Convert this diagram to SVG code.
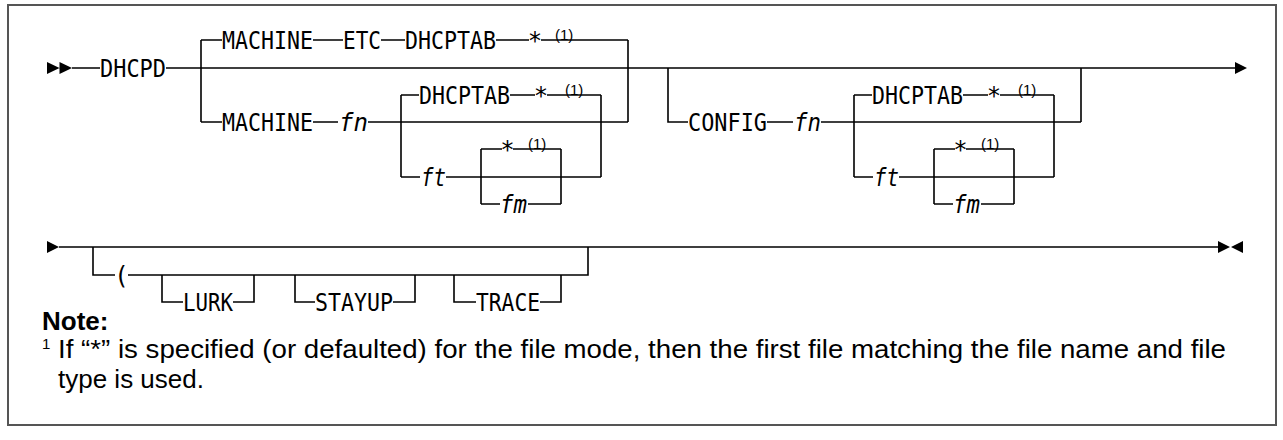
<svg xmlns="http://www.w3.org/2000/svg" width="1283" height="440" viewBox="0 0 1283 440">
<style>
.kw{font-family:"DejaVu Sans Mono","Liberation Mono",monospace;font-size:24px;fill:#000}
.var{font-family:"DejaVu Sans Mono","Liberation Mono",monospace;font-size:24px;font-style:italic;fill:#000}
.sup{font-family:"Liberation Sans",Arial,sans-serif;font-size:15px;fill:#000}
.note{font-family:"Liberation Sans",Arial,sans-serif;font-size:26px;font-weight:bold;fill:#000}
.fnt{font-family:"Liberation Sans",Arial,sans-serif;font-size:26px;fill:#000}
.ln{fill:none;stroke:#000;stroke-width:1.6}
.ah{fill:#000;stroke:none}
</style>
<rect x="0" y="0" width="1283" height="440" fill="#fff"/>
<rect x="8" y="5" width="1268" height="420" fill="#fff" stroke="#555" stroke-width="2"/>
<g id="connectors">
<path class="ln" d="M72,68 H100 M166,68 H1235
M201,40 V122 M201,40 H222 M201,122 H222 M628,40 V122
M313,40 H343 M381,40 H405 M496,40 H529 M541,40 H628
M313,122 H338 M368,122 H628
M401,95 V177 M601,95 V177
M401,95 H419 M510,95 H535 M547,95 H601
M401,177 H420 M446,177 H601
M481,149 V204 M561,149 V204
M481,149 H502 M513,149 H561
M481,204 H500 M528,204 H561
M668,68 V122 H688 M767,122 H793 M821,122 H1081 M1081,68 V122
M854,95 V177 M1054,95 V177
M854,95 H872 M963,95 H988 M1000,95 H1054
M854,177 H873 M899,177 H1054
M934,149 V204 M1014,149 V204
M934,149 H955 M966,149 H1014
M934,204 H953 M981,204 H1014
M59,247 H1218
M93,247 V275 H115 M128,275 H588 V247
M162,275 V302 H183 M233,302 H254 V275
M295,275 V302 H315 M393,302 H415 V275
M454,275 V302 H476 M540,302 H561 V275"/>
<path class="ah" d="M47,62 L59.5,68 L47,74 Z M59.5,62 L72,68 L59.5,74 Z"/>
<path class="ah" d="M1235,62 L1247,68 L1235,74 Z"/>
<path class="ah" d="M47,241 L59,247 L47,253 Z"/>
<path class="ah" d="M1218,241 L1230,247 L1218,253 Z M1243,241 L1231,247 L1243,253 Z"/>
</g>
<g id="n-dhcpd"><text class="kw" x="100" y="77" textLength="66" lengthAdjust="spacingAndGlyphs">DHCPD</text></g>
<g id="n-top">
<text class="kw" x="222" y="49" textLength="91" lengthAdjust="spacingAndGlyphs">MACHINE</text>
<text class="kw" x="343" y="49" textLength="38" lengthAdjust="spacingAndGlyphs">ETC</text>
<text class="kw" x="405" y="49" textLength="91" lengthAdjust="spacingAndGlyphs">DHCPTAB</text>
<text class="kw" x="535" y="49" text-anchor="middle">*</text>
<text class="sup" x="555" y="40">(1)</text>
</g>
<g id="n-machine-fn">
<text class="kw" x="222" y="131" textLength="91" lengthAdjust="spacingAndGlyphs">MACHINE</text>
<text class="var" x="339" y="131" textLength="29" lengthAdjust="spacingAndGlyphs">fn</text>
</g>
<g id="n-left-inner">
<text class="kw" x="419" y="104" textLength="91" lengthAdjust="spacingAndGlyphs">DHCPTAB</text>
<text class="kw" x="541" y="104" text-anchor="middle">*</text>
<text class="sup" x="565" y="95">(1)</text>
<text class="var" x="421" y="186" textLength="25" lengthAdjust="spacingAndGlyphs">ft</text>
<text class="kw" x="507.5" y="158" text-anchor="middle">*</text>
<text class="sup" x="528" y="149">(1)</text>
<text class="var" x="500" y="213" textLength="27" lengthAdjust="spacingAndGlyphs">fm</text>
</g>
<g id="n-config">
<text class="kw" x="688" y="131" textLength="79" lengthAdjust="spacingAndGlyphs">CONFIG</text>
<text class="var" x="794" y="131" textLength="27" lengthAdjust="spacingAndGlyphs">fn</text>
</g>
<g id="n-right-inner">
<text class="kw" x="872" y="104" textLength="91" lengthAdjust="spacingAndGlyphs">DHCPTAB</text>
<text class="kw" x="994" y="104" text-anchor="middle">*</text>
<text class="sup" x="1018" y="95">(1)</text>
<text class="var" x="874" y="186" textLength="25" lengthAdjust="spacingAndGlyphs">ft</text>
<text class="kw" x="960.5" y="158" text-anchor="middle">*</text>
<text class="sup" x="981" y="149">(1)</text>
<text class="var" x="953" y="213" textLength="27" lengthAdjust="spacingAndGlyphs">fm</text>
</g>
<g id="n-options">
<text class="kw" x="121.5" y="284" text-anchor="middle">(</text>
<text class="kw" x="183" y="311" textLength="50" lengthAdjust="spacingAndGlyphs">LURK</text>
<text class="kw" x="315" y="311" textLength="78" lengthAdjust="spacingAndGlyphs">STAYUP</text>
<text class="kw" x="476" y="311" textLength="64" lengthAdjust="spacingAndGlyphs">TRACE</text>
</g>
<g id="n-note">
<text class="note" x="42" y="330">Note:</text>
<text class="sup" x="42" y="349">1</text>
<text class="fnt" x="58" y="358" textLength="1168" lengthAdjust="spacingAndGlyphs">If “*” is specified (or defaulted) for the file mode, then the first file matching the file name and file</text>
<text class="fnt" x="58" y="388">type is used.</text>
</g>
</svg>
